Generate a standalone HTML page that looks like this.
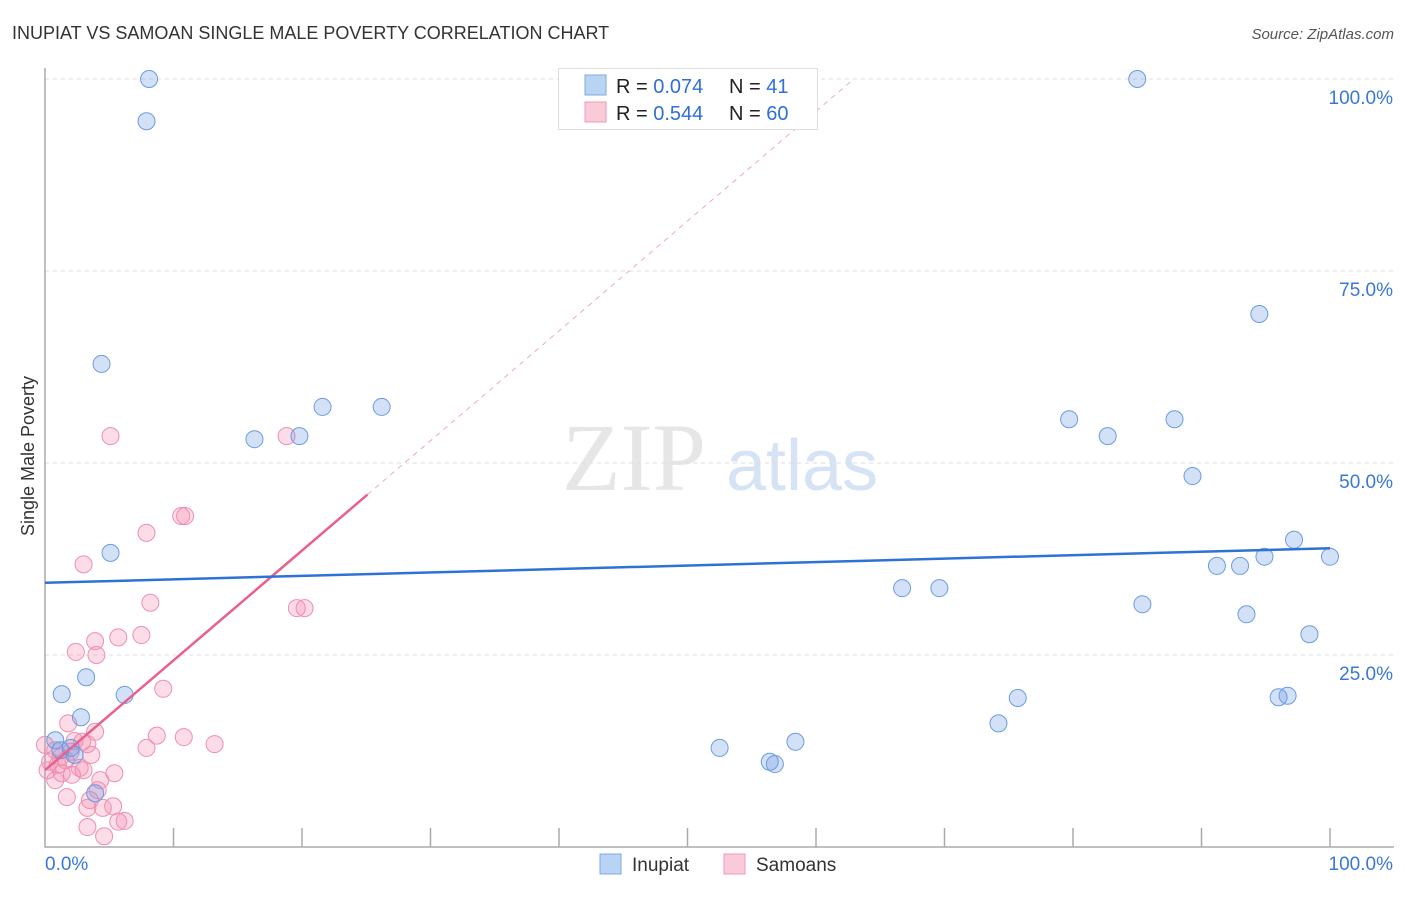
<!DOCTYPE html>
<html><head><meta charset="utf-8"><style>
body{margin:0;background:#fff;font-family:"Liberation Sans",sans-serif}
</style></head><body>
<svg width="1406" height="892" viewBox="0 0 1406 892" font-family="Liberation Sans, sans-serif">
<text x="12" y="39" font-size="18" fill="#333">INUPIAT VS SAMOAN SINGLE MALE POVERTY CORRELATION CHART</text>
<text x="1394" y="39" font-size="15" fill="#555" text-anchor="end" font-style="italic">Source: ZipAtlas.com</text>
<text x="634" y="490" font-size="96" fill="#e6e6e6" style="font-family:'Liberation Serif',serif" text-anchor="middle">ZIP</text>
<text x="802" y="490" font-size="72" fill="#d6e3f5" text-anchor="middle">atlas</text>
<g id="grid"></g>
<text transform="translate(34,456) rotate(-90)" font-size="18" fill="#333" text-anchor="middle">Single Male Poverty</text>
<g id="marks"></g>
<g>
<rect x="558.5" y="68.5" width="259" height="61" fill="#fff" stroke="#ddd"/>
<rect x="585" y="75" width="21" height="20" fill="#b9d3f3" stroke="#7fa8e3"/>
<rect x="585" y="102" width="21" height="20" fill="#f9cad8" stroke="#ee9ab6"/>
<text x="616" y="93" font-size="20" fill="#222">R = <tspan fill="#2f6fd6">0.074</tspan></text>
<text x="729" y="93" font-size="20" fill="#222">N = <tspan fill="#2f6fd6"> 41</tspan></text>
<text x="616" y="120" font-size="20" fill="#222">R = <tspan fill="#2f6fd6">0.544</tspan></text>
<text x="729" y="120" font-size="20" fill="#222">N = <tspan fill="#2f6fd6">60</tspan></text>
</g>
<g>
<rect x="600" y="854" width="21" height="20" fill="#b9d3f3" stroke="#7fa8e3"/>
<text x="632" y="871" font-size="19" fill="#333">Inupiat</text>
<rect x="724" y="854" width="21" height="20" fill="#f9cad8" stroke="#ee9ab6"/>
<text x="756" y="871" font-size="19" fill="#333">Samoans</text>
</g>
</svg>
<script>
const yTicks=[100,75,50,25];
const yTickLabels=["100.0%","75.0%","50.0%","25.0%"];
const xTickCount=10;
const xLabels=["0.0%","100.0%"];
const inupiatX=[8.1,7.9,4.4,21.6,26.2,16.3,19.8,5.1,1.3,3.2,6.2,2.8,0.8,2,3.9,85,94.5,79.7,82.7,87.9,89.3,97.2,94.9,100,91.2,93,66.7,69.6,85.4,93.5,98.4,75.7,74.2,96,96.7,52.5,58.4,56.4,56.8,1.2,2.3];
const inupiatY=[100,94.5,62.9,57.3,57.3,53.1,53.5,38.3,19.9,22.1,19.8,16.9,13.9,12.9,7,100,69.4,55.7,53.5,55.7,48.3,40,37.8,37.8,36.6,36.6,33.7,33.7,31.6,30.3,27.7,19.4,16.1,19.5,19.7,12.9,13.7,11.1,10.8,12.6,12];
const samoanX=[5.1,18.8,7.9,10.6,10.9,3,8.2,19.6,20.2,3.9,5.7,7.5,2.4,4,9.2,1.8,3.9,8.7,10.8,13.2,7.9,2.3,3.3,3.6,2.9,0.8,1.2,0.4,1.6,0.2,1,2.7,1.3,2.1,4.3,5.4,4.1,1.7,3.5,3.3,5.3,4.5,3.3,5.7,6.2,4.6,0,2,3,0.8];
const samoanY=[53.5,53.5,40.9,43.1,43.1,36.8,31.8,31.1,31.1,26.8,27.3,27.6,25.4,25,20.6,16.1,15,14.5,14.3,13.4,12.9,13.8,13.4,12,13.7,12.6,11.7,11.1,11.3,10,10.7,10.3,9.6,9.4,8.7,9.6,7.4,6.5,6.1,5.1,5.3,5.1,2.6,3.3,3.4,1.4,13.3,12.4,10,8.7];
const inupiatTrend=[34.4,38.9];
const samoanTrend=[10.0,1.43];
const X=v=>45+v*12.85, Y=v=>847-v*7.68;
const NS="http://www.w3.org/2000/svg";
function mk(t,a,p){const e=document.createElementNS(NS,t);for(const k in a)e.setAttribute(k,a[k]);p.appendChild(e);return e;}
const g=document.getElementById('grid'), m=document.getElementById('marks');
yTicks.forEach((t,i)=>{
 const l=mk('line',{x1:45,x2:1394,y1:Y(t),y2:Y(t),stroke:'#ddd','stroke-dasharray':'4,4'},g);
 
 
 const tx=mk('text',{x:1393,y:Y(t)+25,'font-size':19,fill:'#3a78d8','text-anchor':'end'},g);
 tx.textContent=yTickLabels[i];
 
 
});
const ax=mk('path',{d:'M45 68V847H1394',fill:'none',stroke:'#aaa','stroke-width':1.5},g);


for(let i=1;i<=xTickCount;i++){
 const x=X(i*10);
 const t=mk('line',{x1:x,x2:x,y1:828,y2:847,stroke:'#aaa','stroke-width':1.5},g);
 
 
}
const xl0=mk('text',{x:45,y:870,'font-size':19,fill:'#3a78d8'},g);xl0.textContent=xLabels[0];


const xl1=mk('text',{x:1393,y:870,'font-size':19,fill:'#3a78d8','text-anchor':'end'},g);xl1.textContent=xLabels[1];


samoanX.forEach((x,i)=>{
 const c=mk('circle',{cx:X(x),cy:Y(samoanY[i]),r:8.5,fill:'rgba(244,143,177,0.3)',stroke:'#ee8fb0','stroke-width':1},m);
 
 
});
inupiatX.forEach((x,i)=>{
 const c=mk('circle',{cx:X(x),cy:Y(inupiatY[i]),r:8.5,fill:'rgba(110,155,230,0.3)',stroke:'#6a9be0','stroke-width':1},m);
 
 
});
const sx=(100-samoanTrend[0])/samoanTrend[1];
const sd=mk('line',{x1:X(25.1),y1:Y(samoanTrend[0]+samoanTrend[1]*25.1),x2:X(sx),y2:Y(100),stroke:'#ecaac0','stroke-dasharray':'5,5'},m);


const sl=mk('line',{x1:X(0),y1:Y(samoanTrend[0]),x2:X(25.1),y2:Y(samoanTrend[0]+samoanTrend[1]*25.1),stroke:'#e8608e','stroke-width':2.5},m);


const il=mk('line',{x1:X(0),y1:Y(inupiatTrend[0]),x2:X(100),y2:Y(inupiatTrend[1]),stroke:'#2f72d6','stroke-width':2.5},m);


</script>
</body></html>
